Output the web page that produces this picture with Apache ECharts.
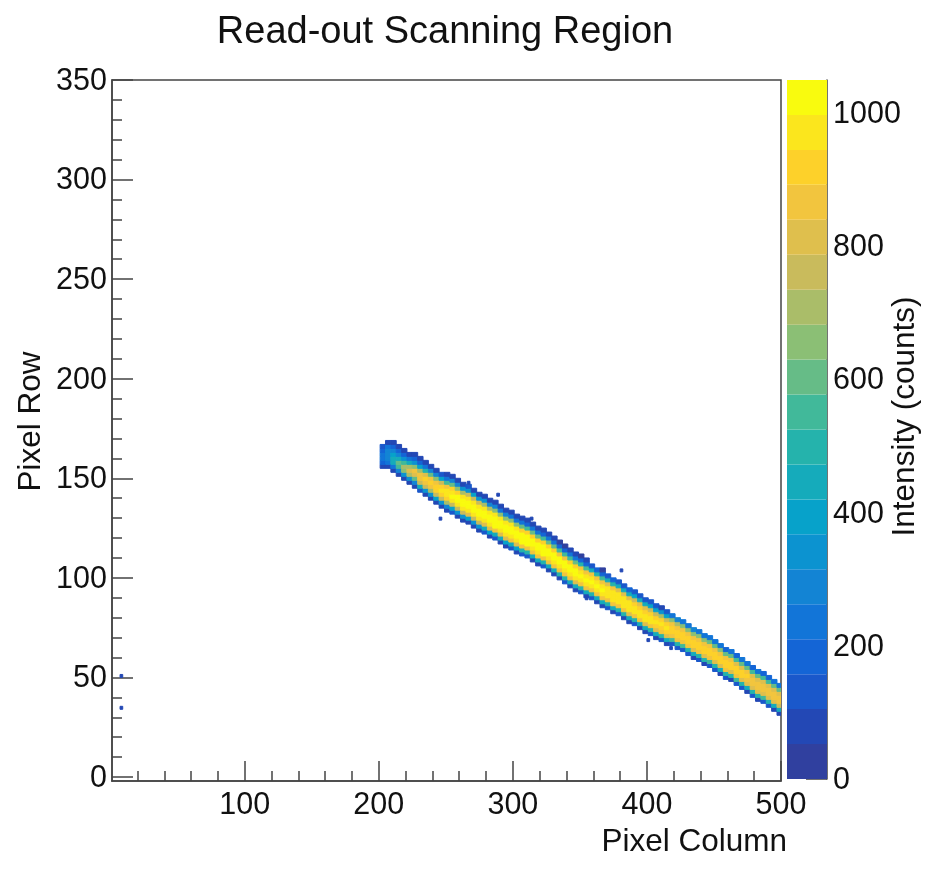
<!DOCTYPE html>
<html><head><meta charset="utf-8">
<style>html,body{margin:0;padding:0;background:#fff}#c{width:930px;height:877px}</style>
<script src="https://cdn.jsdelivr.net/npm/echarts@6/dist/echarts.min.js"></script>
</head><body><div id="c"></div>
<script>
const xMajorTicks=[100,200,300,400,500];
const xMinorTicks=[20,40,60,80,120,140,160,180,220,240,260,280,320,340,360,380,420,440,460,480];
const yMajorTicks=[0,50,100,150,200,250,300,350];
const yMinorTicks=[10,20,30,40,60,70,80,90,110,120,130,140,160,170,180,190,210,220,230,240,260,270,280,290,310,320,330,340];
const barTicks=[0,200,400,600,800,1000];
const palette=['#30409f','#2348b5','#1a58cb','#1465d6','#1275d8','#1384d4','#0c93d0','#07a2ca','#15abbb','#25b3ac','#41b99a','#66bc87','#8bbf75','#aabd69','#c9bb5c','#dfbf4d','#f2c53e','#fdd12a','#fbe61d','#f9fb0e'];
// left edge of each 4-column strip
const columns=[201,205,209,213,217,221,225,229,233,237,241,245,249,253,257,261,265,269,273,277,281,285,289,293,297,301,305,309,313,317,321,325,329,333,337,341,345,349,353,357,361,365,369,373,377,381,385,389,393,397,401,405,409,413,417,421,425,429,433,437,441,445,449,453,457,461,465,469,473,477,481,485,489,493,497];
// lowest row of each strip
const bottomRows=[155,155,153,151,149,147,145,143,141,139,137,135,133,132,130,128,127,125,123,122,120,119,117,115,114,112,111,110,108,106,105,103,101,99,97,95,93,92,90,89,87,85,84,82,81,79,77,76,74,72,71,69,68,66,66,64,63,61,59,58,56,55,53,51,49,48,46,44,42,40,38,37,35,33,31];
// counts in 2-row cells, bottom to top, for each strip
const counts=[
[90,170,210,230,190,110],
[100,220,280,300,270,210,100],
[70,260,430,470,380,270,190,90],
[80,300,560,600,470,300,190,80],
[90,340,640,720,560,340,200,90],
[80,330,690,820,700,420,220,90],
[60,280,610,820,840,660,350,180,70],
[110,420,760,880,880,700,380,170,70],
[90,360,740,880,900,800,520,230,80],
[80,340,720,890,920,860,600,270,90],
[100,400,780,910,940,880,640,280,90],
[70,330,740,920,960,930,760,400,140],
[80,310,720,930,980,960,850,560,230,70],
[110,400,780,950,1000,990,900,620,270,80],
[90,350,770,960,1010,1010,930,680,300,90],
[70,320,740,960,1020,1030,960,720,340,100],
[100,400,800,980,1030,1040,970,750,360,110],
[80,350,770,980,1040,1040,980,760,370,100],
[70,330,760,970,1040,1045,990,770,350,90],
[110,430,810,990,1040,1040,980,730,320,90],
[90,390,800,980,1030,1040,970,720,310,80],
[120,470,850,1000,1040,1040,960,680,280,70],
[90,420,830,990,1040,1045,960,670,260,70],
[80,380,810,990,1030,1040,970,680,270,80],
[110,460,850,990,1030,1030,950,640,240,70],
[80,400,820,980,1030,1030,960,660,260,80],
[110,480,860,1000,1030,1020,930,600,220,60],
[130,520,880,1000,1030,1010,910,560,200,60],
[100,470,860,990,1020,1020,920,580,210,60],
[80,430,840,990,1020,1020,930,610,230,70],
[110,500,870,1000,1020,1000,900,560,200,60],
[90,450,850,990,1020,1010,920,590,220,60],
[80,420,840,980,1020,1010,930,620,240,70],
[100,480,860,990,1010,1000,890,540,190,50],
[110,500,870,990,1010,1000,880,530,190,50],
[90,460,850,990,1010,1000,900,570,210,60],
[80,420,830,980,1010,1010,910,600,230,70],
[110,490,860,990,1000,990,870,520,180,50],
[90,450,850,980,1000,990,880,550,200,60],
[120,520,880,990,1000,970,840,470,150],
[100,470,860,980,1000,980,860,500,170],
[80,430,840,970,1000,980,880,540,190,50],
[110,500,860,970,990,960,820,460,150],
[90,460,850,970,990,970,840,490,170],
[120,520,870,970,980,950,790,420,130],
[100,480,850,960,980,950,800,440,140],
[80,440,830,960,970,950,820,470,160],
[110,510,860,960,970,930,770,410,130],
[90,470,840,950,970,940,790,430,140],
[80,430,820,950,960,940,810,460,150],
[110,500,850,950,960,920,760,390,120],
[90,460,830,940,960,930,770,410,130],
[120,510,850,940,950,910,720,360,100],
[100,470,830,930,950,910,740,390,110],
[130,530,860,940,940,890,680,250],
[110,500,840,930,940,890,700,280],
[130,540,860,930,930,870,650,240],
[110,500,840,920,930,870,660,260],
[90,470,820,920,930,880,680,290],
[120,520,840,920,920,860,640,240],
[100,490,820,910,920,860,650,260],
[130,530,850,920,910,840,600,210],
[110,500,830,910,920,850,620,230],
[90,470,810,910,910,860,640,250],
[120,520,840,910,910,840,590,200],
[100,490,820,900,910,840,610,220],
[130,540,840,900,900,820,570,190],
[110,500,820,900,900,830,590,210],
[90,460,800,890,900,840,610,230],
[120,510,830,890,890,810,560,190],
[100,480,810,890,890,820,580,210],
[130,530,830,880,880,800,540,180],
[110,500,810,880,880,810,560,200],
[90,470,790,880,880,820,580,220],
[80,440,780,870,880,820,590,230]
];
// isolated hits: column, row
const strayColumns=[7,7,245,266,288,313,354,380,400,417];
const strayRows=[50,34,129,147,141,129,89,103,68,64];
const strayCounts=[60,60,70,80,70,70,70,70,70,60];

const cells=[];
columns.forEach((c,i)=>counts[i].forEach((v,j)=>cells.push([c,bottomRows[i]+2*j,v,4,2])));
strayColumns.forEach((c,i)=>cells.push([c,strayRows[i],strayCounts[i],2,1.5]));

const zMax=1050, step=zMax/palette.length;
const colorOf=v=>palette[Math.min(palette.length-1,Math.floor(v/step))];
const barData=palette.map((p,i)=>[i*step,(i+1)*step,p]);

const font='"Liberation Sans"', ink='#444', txt='#111';
const lbl={fontFamily:font,fontSize:30.5,color:txt,formatter:v=>String(v)};
const chart=echarts.init(document.getElementById('c'),null,{renderer:'canvas'});
chart.setOption({
 backgroundColor:'#fff',animation:false,
 title:{text:'Read-out Scanning Region',left:440,top:9,textAlign:'center',textStyle:{fontFamily:font,fontSize:38,fontWeight:'normal',color:txt}},
 grid:[
  {left:112,top:80,width:669,height:701,show:true,borderColor:ink,borderWidth:1.5,backgroundColor:'transparent',outerBoundsMode:'none',containLabel:false},
  {left:787,top:80,width:40,height:699,show:false,outerBoundsMode:'none',containLabel:false}
 ],
 xAxis:[
  {type:'value',gridIndex:0,min:1,max:500,position:'bottom',splitLine:{show:false},
   axisLine:{onZero:false,lineStyle:{color:ink,width:1.5}},
   axisTick:{inside:true,length:20,customValues:xMajorTicks,lineStyle:{color:ink,width:1.5}},
   axisLabel:{...lbl,margin:9,customValues:xMajorTicks,hideOverlap:false,showMaxLabel:true},
   name:'Pixel Column',nameLocation:'end',nameGap:0,
   nameTextStyle:{fontFamily:font,fontSize:31.5,color:txt,align:'right',verticalAlign:'top',padding:[45,-6,0,0]}},
  {type:'value',gridIndex:0,min:1,max:500,position:'bottom',splitLine:{show:false},
   axisLine:{show:false,onZero:false},
   axisTick:{inside:true,length:10,customValues:xMinorTicks,lineStyle:{color:ink,width:1.5}},
   axisLabel:{show:false}},
  {type:'value',gridIndex:1,min:0,max:1,show:false}
 ],
 yAxis:[
  {type:'value',gridIndex:0,min:-2,max:350,position:'left',splitLine:{show:false},
   axisLine:{onZero:false,lineStyle:{color:ink,width:1.5}},
   axisTick:{inside:true,length:21,customValues:yMajorTicks,lineStyle:{color:ink,width:1.5}},
   axisLabel:{...lbl,margin:5,verticalAlign:'top',lineHeight:3,customValues:yMajorTicks,hideOverlap:false},
   name:'Pixel Row',nameLocation:'middle',nameGap:65,nameRotate:90,nameMoveOverlap:false,
   nameTextStyle:{fontFamily:font,fontSize:31.5,color:txt,padding:[0,0,0,18]}},
  {type:'value',gridIndex:0,min:-2,max:350,position:'left',splitLine:{show:false},
   axisLine:{show:false,onZero:false},
   axisTick:{inside:true,length:10,customValues:yMinorTicks,lineStyle:{color:ink,width:1.5}},
   axisLabel:{show:false}},
  {type:'value',gridIndex:1,min:0,max:zMax,position:'right',splitLine:{show:false},
   axisLine:{show:true,onZero:false,lineStyle:{color:ink,width:1.5}},
   axisTick:{show:true,inside:true,length:21,customValues:barTicks,lineStyle:{color:ink,width:1.5}},
   axisLabel:{...lbl,margin:6,verticalAlign:'top',lineHeight:3,customValues:barTicks,hideOverlap:false},
   name:'Intensity (counts)',nameLocation:'middle',nameGap:62,nameRotate:90,nameMoveOverlap:false,
   nameTextStyle:{fontFamily:font,fontSize:31.5,color:txt,padding:[0,0,0,26]}}
 ],
 series:[
  {type:'custom',xAxisIndex:0,yAxisIndex:0,clip:true,data:cells,silent:true,
   renderItem:(p,api)=>{
    const a=api.coord([api.value(0),api.value(1)]);
    const b=api.coord([api.value(0)+api.value(3),api.value(1)+api.value(4)]);
    const c=colorOf(api.value(2));
    return {type:'rect',shape:{x:a[0],y:b[1],width:b[0]-a[0],height:a[1]-b[1]},style:{fill:c,stroke:c,lineWidth:1}};
   }},
  {type:'custom',xAxisIndex:2,yAxisIndex:2,data:barData,silent:true,
   renderItem:(p,api)=>{
    const a=api.coord([0,api.value(0)]);
    const b=api.coord([1,api.value(1)]);
    return {type:'rect',shape:{x:a[0],y:b[1],width:b[0]-a[0],height:a[1]-b[1]},style:{fill:palette[p.dataIndex]}};
   }}
 ]
});
</script></body></html>
